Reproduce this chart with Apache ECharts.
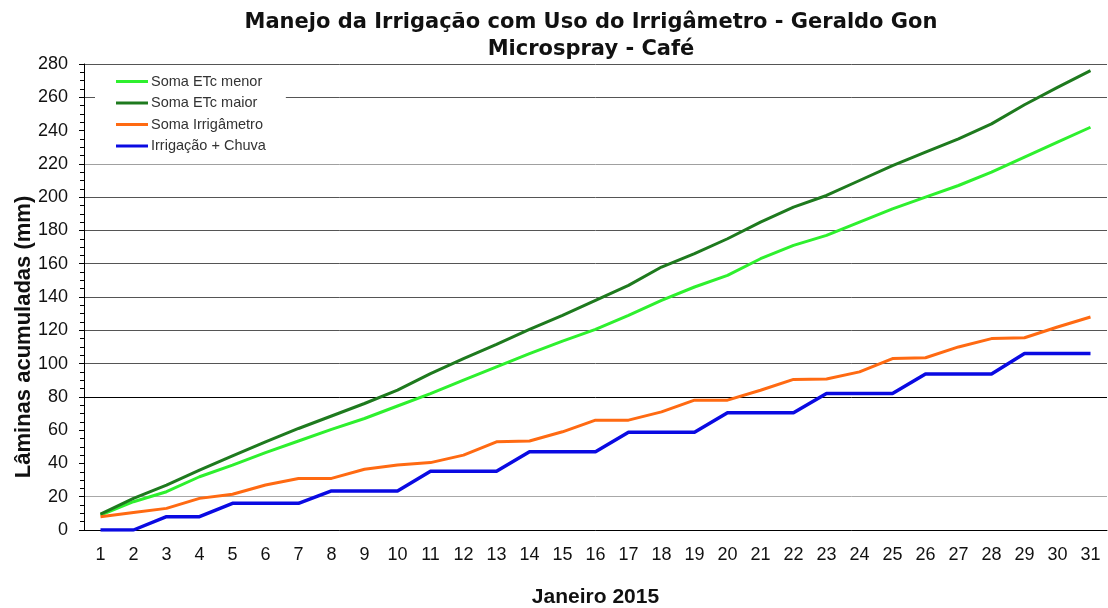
<!DOCTYPE html>
<html>
<head>
<meta charset="utf-8">
<title>Manejo da Irrigação</title>
<script src="https://cdn.jsdelivr.net/npm/echarts@6/dist/echarts.min.js"></script>
<style>
  html, body { margin: 0; padding: 0; background: #fff; }
  #chart { width: 1108px; height: 608px; }
</style>
</head>
<body>
<div id="chart"></div>
<script>
var dias = ['1', '2', '3', '4', '5', '6', '7', '8', '9', '10', '11', '12', '13', '14', '15', '16',
  '17', '18', '19', '20', '21', '22', '23', '24', '25', '26', '27', '28', '29', '30', '31'];

var somaEtcMenor = [9, 17, 23, 32, 39, 46.5, 53.5, 60.5, 67, 74.5, 82, 90, 98, 106, 113.5, 120.5,
  129, 138, 146, 153, 163, 171, 177, 185, 193, 200, 207, 215, 224, 233, 242];
var somaEtcMaior = [9.5, 19, 27, 36, 44.5, 53, 61, 68.5, 76, 84, 94, 103, 111.5, 120.5, 129, 138,
  147, 158, 166, 175, 185, 194, 201, 210, 219, 227, 235, 244, 255.5, 266, 276];
var somaIrrigametro = [8, 10.5, 13, 19, 21.5, 27, 31, 31, 36.5, 39, 40.5, 45, 53, 53.5, 59, 66,
  66, 71, 78, 78, 84, 90.5, 90.7, 95, 103, 103.5, 110, 115, 115.5, 122, 128];
var irrigacaoChuva = [0, 0, 8, 8, 16, 16, 16, 23.5, 23.5, 23.5, 35.3, 35.3, 35.3, 47, 47, 47,
  58.7, 58.7, 58.7, 70.4, 70.4, 70.4, 82, 82, 82, 93.8, 93.8, 93.8, 106, 106, 106];

var nomes = ['Soma ETc menor', 'Soma ETc maior', 'Soma Irrigâmetro', 'Irrigação + Chuva'];
var cores = ['#2ef02e', '#1e7a1e', '#ff6a12', '#0a0ae2'];

// cor de cada linha de grade (0, 20, 40 ... 280); algumas não aparecem no original
var gradeCores = ['#888', '#a8a8a8', 'rgba(0,0,0,0)', 'rgba(0,0,0,0)', '#000', '#555', '#555',
  '#555', '#555', '#555', '#555', '#a0a0a0', 'rgba(0,0,0,0)', '#555', '#555'];

var myChart = echarts.init(document.getElementById('chart'));

function serie(i, valores) {
  return {
    name: nomes[i],
    type: 'line',
    data: valores,
    symbol: 'none',
    smooth: false,
    lineStyle: { color: cores[i], width: i === 3 ? 3.5 : 3 },
    itemStyle: { color: cores[i] }
  };
}

var option = {
  animation: false,
  backgroundColor: '#fff',
  title: {
    text: 'Manejo da Irrigação com Uso do Irrigâmetro - Geraldo Gon\nMicrospray - Café',
    left: 586,
    top: 4,
    textAlign: 'center',
    textStyle: {
      fontFamily: 'DejaVu Sans',
      fontWeight: 'bold',
      fontSize: 21,
      lineHeight: 27,
      color: '#111'
    }
  },
  legend: {
    data: nomes,
    orient: 'vertical',
    left: 95,
    top: 68,
    padding: [6, 20, 6, 21],
    backgroundColor: '#fff',
    icon: 'path://M0,0L32,0L32,3L0,3Z',
    itemWidth: 32,
    itemHeight: 14,
    itemGap: 6.5,
    textStyle: { fontFamily: 'Liberation Sans', fontSize: 14.5, color: '#333', padding: [0, 0, 0, -2] }
  },
  grid: { left: 84, right: 1, top: 64, bottom: 78, outerBoundsMode: 'none', containLabel: false },
  xAxis: {
    type: 'category',
    data: dias,
    boundaryGap: true,
    name: 'Janeiro 2015',
    nameLocation: 'middle',
    nameGap: 57,
    nameMoveOverlap: false,
    nameTextStyle: { fontFamily: 'Liberation Sans', fontWeight: 'bold', fontSize: 21, color: '#111' },
    axisLine: { lineStyle: { color: '#000', width: 1 } },
    axisTick: { length: 5, lineStyle: { color: '#000' } },
    axisLabel: { interval: 0, margin: 16, fontFamily: 'Liberation Sans', fontSize: 18, color: '#111' }
  },
  yAxis: {
    type: 'value',
    min: 0,
    max: 280,
    interval: 20,
    name: 'Lâminas acumuladas (mm)',
    nameLocation: 'middle',
    nameGap: 49,
    nameMoveOverlap: false,
    nameTextStyle: {
      fontFamily: 'Liberation Sans', fontWeight: 'bold', fontSize: 22, color: '#111',
      padding: [0, 80, 0, 0]
    },
    axisLine: { show: true, lineStyle: { color: '#000', width: 1 } },
    axisTick: { show: true, length: 5, lineStyle: { color: '#000' } },
    minorTick: { show: true, splitNumber: 4, length: 4, lineStyle: { color: '#000' } },
    axisLabel: { margin: 16, fontFamily: 'Liberation Sans', fontSize: 18, color: '#111' },
    splitLine: { show: true, lineStyle: { color: gradeCores, width: 1 } }
  },
  series: [
    serie(0, somaEtcMenor),
    serie(1, somaEtcMaior),
    serie(2, somaIrrigametro),
    serie(3, irrigacaoChuva)
  ]
};
myChart.setOption(option);
</script>
</body>
</html>
